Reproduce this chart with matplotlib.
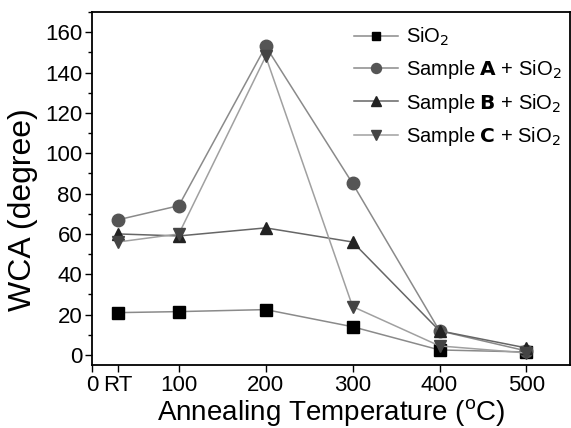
import matplotlib
matplotlib.use("Agg")
import matplotlib.pyplot as plt
from matplotlib.ticker import MultipleLocator

plt.rcParams['font.family'] = ['Liberation Sans', 'DejaVu Sans']

temps = [30, 100, 200, 300, 400, 500]
sio2 = [21, 21.5, 22.5, 14, 2.5, 1.5]
sample_a = [67, 74, 153, 85, 12, 2]
sample_b = [60, 59, 63, 56, 12, 3.5]
sample_c = [56, 60, 148, 24, 4.5, 1]
xtick_pos = [0, 30, 100, 200, 300, 400, 500]
xtick_labels = ['0', 'RT', '100', '200', '300', '400', '500']

fig = plt.figure(figsize=(5.71, 4.28), dpi=100)
ax = fig.add_axes([0.161, 0.147, 0.837, 0.825])

line_c = '#8a8a8a'
ax.plot(temps, sio2, '-s', color=line_c, mfc='black', mec='black', ms=8, lw=1.1,
        label='SiO$_2$')
ax.plot(temps, sample_a, '-o', color=line_c, mfc='#555555', mec='#555555', ms=9, lw=1.1,
        label='Sample $\\mathbf{A}$ + SiO$_2$')
ax.plot(temps, sample_b, '-^', color='#666666', mfc='#222222', mec='#222222', ms=9, lw=1.1,
        label='Sample $\\mathbf{B}$ + SiO$_2$')
ax.plot(temps, sample_c, '-v', color='#a0a0a0', mfc='#444444', mec='#444444', ms=9, lw=1.1,
        label='Sample $\\mathbf{C}$ + SiO$_2$')

ax.set_xlim(0, 550)
ax.set_ylim(-5, 170)
ax.set_xticks(xtick_pos)
ax.set_xticklabels(xtick_labels)
ax.set_yticks(range(0, 161, 20))
ax.yaxis.set_minor_locator(MultipleLocator(10))
ax.tick_params(axis='both', labelsize=16, direction='out', length=5, width=1, pad=2)
ax.tick_params(axis='y', which='minor', length=3, width=1)
for s in ax.spines.values():
    s.set_linewidth(1.3)

ax.set_xlabel('Annealing Temperature ($^{\\mathregular{o}}$C)', fontsize=20, labelpad=1)
ax.set_ylabel('WCA (degree)', fontsize=23)
ax.yaxis.set_label_coords(-0.113, 0.44)

leg = ax.legend(loc='upper right', frameon=False, fontsize=14.5, handlelength=2.2,
                handletextpad=0.4, labelspacing=0.5, borderaxespad=0.3,
                markerscale=0.8, bbox_to_anchor=(1.012, 1.0))

fig.savefig('out.png', dpi=100)
